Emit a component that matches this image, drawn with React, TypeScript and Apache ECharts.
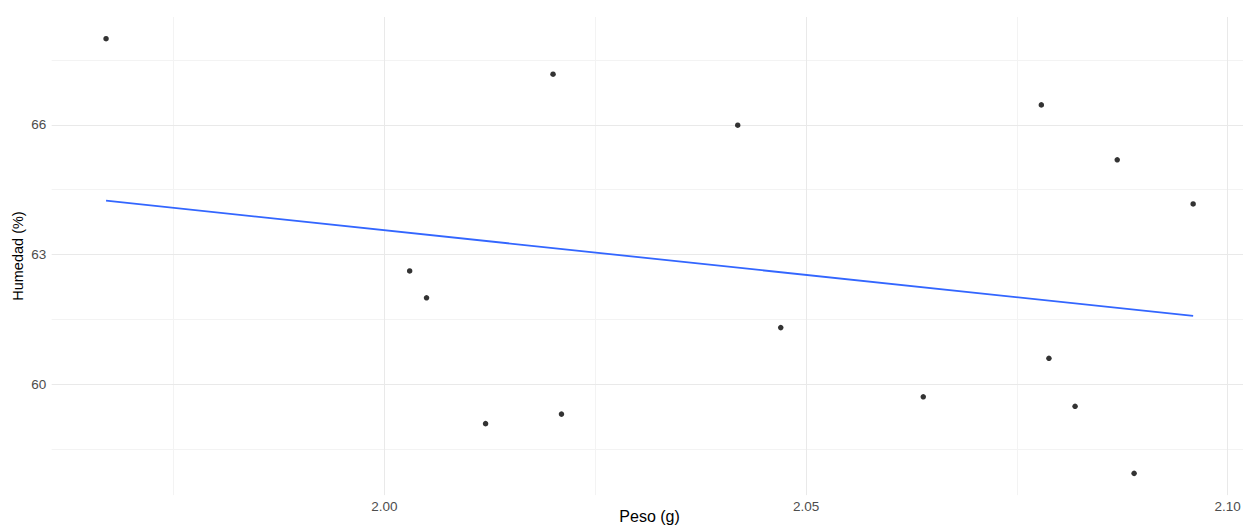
import React, { useEffect, useRef } from "react";
import * as echarts from "echarts";

// Data
const pesoG = [1.967, 2.02, 2.0419, 2.0779, 2.0869, 2.0959, 2.003, 2.005, 2.047, 2.0788, 2.0639, 2.0819, 2.012, 2.021, 2.0889];
const humedadPct = [67.99, 67.17, 65.99, 66.46, 65.19, 64.17, 62.62, 62.0, 61.31, 60.6, 59.71, 59.49, 59.09, 59.31, 57.94];

// Fitted line (lm) endpoints
const trendPeso = [1.967, 2.0959];
const trendHumedad = [64.245, 61.58];

// Axis ticks / grid values
const xTicks = [2.0, 2.05, 2.1];
const xMinor = [1.975, 2.025, 2.075];
const yTicks = [60, 63, 66];
const yMinor = [58.5, 61.5, 64.5, 67.5];
const xLimits = [1.960555, 2.102345];
const yLimits = [57.4375, 68.4925];

const FONT = "'Liberation Sans', Arial, sans-serif";

export default function App() {
  const ref = useRef<HTMLDivElement>(null);

  useEffect(() => {
    if (!ref.current) return;
    const chart = echarts.init(ref.current, undefined, { renderer: "svg" });

    const points = pesoG.map((x, i) => [x, humedadPct[i]]);
    const trend = trendPeso.map((x, i) => [x, trendHumedad[i]]);

    const majorLines = [
      ...xTicks.map((v) => ({ xAxis: v })),
      ...yTicks.map((v) => ({ yAxis: v })),
    ];
    const minorLines = [
      ...xMinor.map((v) => ({ xAxis: v })),
      ...yMinor.map((v) => ({ yAxis: v })),
    ];

    chart.setOption({
      animation: false,
      backgroundColor: "#ffffff",
      grid: {
        left: 51.7,
        right: -4.5,
        top: 17,
        bottom: 31.9,
        containLabel: false,
        outerBoundsMode: "none",
      },
      xAxis: {
        type: "value",
        min: xLimits[0],
        max: xLimits[1],
        name: "Peso (g)",
        nameLocation: "middle",
        nameGap: 13,
        nameMoveOverlap: false,
        nameTextStyle: { fontSize: 16, color: "#000000", fontFamily: FONT },
        axisLine: { show: false },
        axisTick: { show: false, customValues: xTicks },
        splitLine: { show: false },
        axisLabel: {
          customValues: xTicks,
          formatter: (v: number) => v.toFixed(2),
          color: "#4d4d4d",
          fontSize: 13.5,
          fontFamily: FONT,
          margin: 4,
        },
      },
      yAxis: {
        type: "value",
        min: yLimits[0],
        max: yLimits[1],
        name: "Humedad (%)",
        nameLocation: "middle",
        nameGap: 26.5,
        nameMoveOverlap: false,
        nameTextStyle: { fontSize: 14.5, color: "#000000", fontFamily: FONT },
        axisLine: { show: false },
        axisTick: { show: false, customValues: yTicks },
        splitLine: { show: false },
        axisLabel: {
          customValues: yTicks,
          formatter: (v: number) => String(Math.round(v)),
          color: "#4d4d4d",
          fontSize: 13.5,
          fontFamily: FONT,
          margin: 5.5,
        },
      },
      series: [
        {
          type: "scatter",
          data: [],
          z: 1,
          silent: true,
          markLine: {
            z: 1,
            silent: true,
            symbol: "none",
            precision: 6,
            label: { show: false },
            lineStyle: { type: "solid", color: "#f3f3f3", width: 1 },
            emphasis: { disabled: true },
            data: minorLines,
          },
        },
        {
          type: "scatter",
          data: [],
          z: 1,
          silent: true,
          markLine: {
            z: 1,
            silent: true,
            symbol: "none",
            precision: 6,
            label: { show: false },
            lineStyle: { type: "solid", color: "#e9e9e9", width: 1 },
            emphasis: { disabled: true },
            data: majorLines,
          },
        },
        {
          type: "line",
          data: trend,
          z: 3,
          showSymbol: false,
          symbol: "none",
          lineStyle: { color: "#3366ff", width: 1.8 },
          silent: true,
        },
        {
          type: "scatter",
          data: points,
          z: 4,
          symbol: "circle",
          symbolSize: 5.5,
          itemStyle: { color: "#000000" },
          silent: true,
        },
      ],
    });

    return () => chart.dispose();
  }, []);

  return (
    <div
      ref={ref}
      style={{ position: "fixed", left: 0, top: 0, width: 1243, height: 527 }}
    />
  );
}
